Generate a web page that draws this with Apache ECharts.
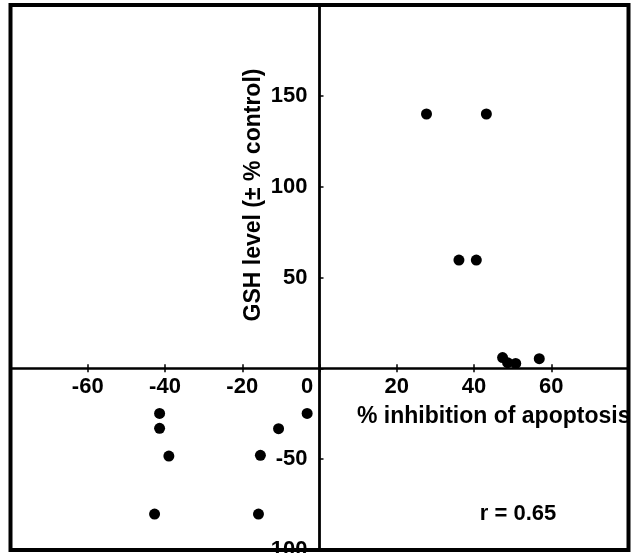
<!DOCTYPE html>
<html>
<head>
<meta charset="utf-8">
<script src="https://cdn.jsdelivr.net/npm/echarts@6/dist/echarts.min.js"></script>
<style>
  html, body { margin: 0; padding: 0; background: #fff; }
  #chart { width: 643px; height: 553px; }
</style>
</head>
<body>
<div id="chart"></div>
<script>
// % inhibition of apoptosis (x) against GSH level, ± % of control (y)
const inhibition = [27.7, 43.2, 36.1, 40.6, 47.4, 48.7, 50.8, 56.9,
                    -41.4, -41.4, -39.0, -42.7, -15.3, -15.8, -10.6, -3.2];
const gshLevel   = [140, 140, 59.6, 59.6, 5.9, 3.1, 2.7, 5.3,
                    -24.8, -33.0, -48.3, -80.2, -47.9, -80.2, -33.2, -24.8];

// axis ranges and which tick labels stay blank
const xRange = [-80, 80];
const xStep = 20;
const xBlankLabels = [-80, 80];
const yRange = [-100, 200];
const yStep = 50;
const yBlankLabels = [0, 200];

const xTitle = '% inhibition of apoptosis';
const yTitle = 'GSH level (± % control)';
const corrText = 'r = 0.65';

const FONT = '"Liberation Sans", Arial, Helvetica, sans-serif';

const points = inhibition.map((x, i) => [x, gshLevel[i]]);

// plot frame in pixels
const W = 643, H = 553;
const G = { left: 10.5, right: 14.5, top: 5, bottom: 3 };
const gw = W - G.left - G.right;
const gh = H - G.top - G.bottom;
// the axes cross at the origin: shift each axis in from the frame edge to zero
const yAxisShift = gw * (0 - xRange[0]) / (xRange[1] - xRange[0]);
const xAxisShiftFromBottom = gh * (0 - yRange[0]) / (yRange[1] - yRange[0]);
const xAxisShiftFromTop = gh - xAxisShiftFromBottom;

const chart = echarts.init(document.getElementById('chart'), null, { renderer: 'canvas' });

const labelBase = {
  color: '#000',
  fontFamily: FONT,
  fontWeight: 'bold',
  fontSize: 22
};

chart.setOption({
  backgroundColor: '#fff',
  animation: false,
  grid: {
    show: true,
    left: G.left, right: G.right, top: G.top, bottom: G.bottom,
    containLabel: false,
    outerBoundsMode: 'none',
    borderColor: '#000',
    borderWidth: 4,
    backgroundColor: 'transparent'
  },
  xAxis: [
    {
      type: 'value',
      min: xRange[0], max: xRange[1], interval: xStep,
      position: 'bottom',
      offset: -xAxisShiftFromBottom,
      axisLine: { show: true, onZero: false, lineStyle: { color: '#000', width: 2.5 } },
      axisTick: { show: true, inside: false, length: 4, lineStyle: { color: '#000', width: 1.5 } },
      splitLine: { show: false },
      axisLabel: Object.assign({}, labelBase, {
        margin: 8,
        formatter: v => {
          if (xBlankLabels.includes(v)) return '';
          if (v === 0) return '{z|0}';
          return String(v);
        },
        rich: {
          z: Object.assign({}, labelBase, { padding: [0, 25, 4, 0] })
        }
      })
    },
    {
      // upper half of the crossing tick marks on the x axis
      type: 'value',
      min: xRange[0], max: xRange[1], interval: xStep,
      position: 'top',
      offset: -xAxisShiftFromTop,
      axisLine: { show: false, onZero: false },
      axisTick: { show: true, inside: false, length: 4, lineStyle: { color: '#000', width: 1.5 } },
      splitLine: { show: false },
      axisLabel: { show: false }
    }
  ],
  yAxis: {
    type: 'value',
    min: yRange[0], max: yRange[1], interval: yStep,
    position: 'left',
    offset: -yAxisShift,
    axisLine: { show: true, onZero: false, lineStyle: { color: '#000', width: 2.8 } },
    axisTick: { show: true, inside: true, length: 4, lineStyle: { color: '#000', width: 1.5 } },
    splitLine: { show: false },
    axisLabel: Object.assign({}, labelBase, {
      margin: 12,
      formatter: v => (yBlankLabels.includes(v) ? '' : String(v))
    })
  },
  series: [
    {
      type: 'scatter',
      xAxisIndex: 0,
      yAxisIndex: 0,
      data: points,
      symbol: 'circle',
      symbolSize: 11,
      itemStyle: { color: '#000', opacity: 1 },
      z: 5
    }
  ],
  graphic: [
    {
      type: 'text',
      x: 254, y: 195,
      rotation: Math.PI / 2,
      style: {
        text: yTitle,
        font: 'bold 23px ' + FONT,
        fill: '#000',
        align: 'center', verticalAlign: 'middle',
        textAlign: 'center', textVerticalAlign: 'middle'
      }
    },
    {
      type: 'text',
      x: 357, y: 417,
      style: {
        text: xTitle,
        font: 'bold 23px ' + FONT,
        fill: '#000',
        align: 'left', verticalAlign: 'middle',
        textAlign: 'left', textVerticalAlign: 'middle'
      }
    },
    {
      type: 'text',
      x: 518, y: 514,
      style: {
        text: corrText,
        font: 'bold 22px ' + FONT,
        fill: '#000',
        align: 'center', verticalAlign: 'middle',
        textAlign: 'center', textVerticalAlign: 'middle'
      }
    }
  ]
});
</script>
</body>
</html>
